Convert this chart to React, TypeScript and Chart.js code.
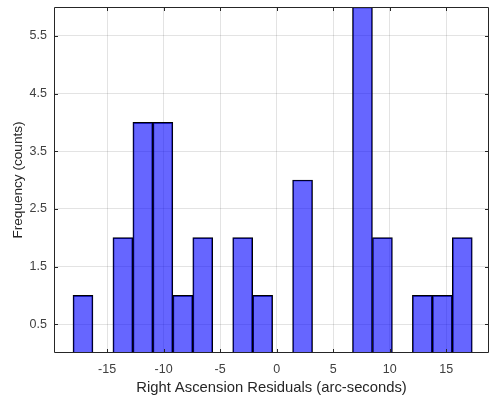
import React, { useEffect, useRef } from "react";
import { Chart, registerables } from "chart.js";

Chart.register(...registerables);

// Histogram bins (edges derived from start + width)
const binStart = -18.02;
const binWidth = 1.766;
const counts = [1, 0, 2, 4, 4, 1, 2, 0, 2, 1, 0, 3, 0, 0, 6, 2, 0, 1, 1, 2];

const xTicks = [-15, -10, -5, 0, 5, 10, 15];
const yTicks = [0.5, 1.5, 2.5, 3.5, 4.5, 5.5];
const xMin = -19.7;
const xMax = 18.78;
const yMin = 0;
const yMax = 6;

const xTitle = "Right Ascension Residuals (arc-seconds)";
const yTitle = "Frequency (counts)";

const FONT = "'Liberation Sans', Arial, Helvetica, sans-serif";
const AXIS = "#262626";

const boxPlugin = {
  id: "box",
  afterDatasetsDraw(chart: any) {
    const { ctx, chartArea } = chart;
    const { left, right, top, bottom } = chartArea;
    const xs = chart.scales.x;
    const ys = chart.scales.y;
    ctx.save();
    ctx.strokeStyle = AXIS;
    ctx.lineWidth = 1;
    ctx.beginPath();
    ctx.moveTo(left + 0.5, top + 0.5);
    ctx.lineTo(right - 0.5, top + 0.5);
    ctx.lineTo(right - 0.5, bottom - 0.5);
    ctx.lineTo(left + 0.5, bottom - 0.5);
    ctx.closePath();
    ctx.stroke();
    const tl = 4;
    ctx.beginPath();
    xTicks.forEach((v) => {
      const px = Math.round(xs.getPixelForValue(v)) + 0.5;
      ctx.moveTo(px, bottom);
      ctx.lineTo(px, bottom - tl);
      ctx.moveTo(px, top);
      ctx.lineTo(px, top + tl);
    });
    yTicks.forEach((v) => {
      const py = Math.round(ys.getPixelForValue(v)) + 0.5;
      ctx.moveTo(left, py);
      ctx.lineTo(left + tl, py);
      ctx.moveTo(right, py);
      ctx.lineTo(right - tl, py);
    });
    ctx.stroke();
    ctx.restore();
  },
};

export default function App() {
  const ref = useRef<HTMLCanvasElement | null>(null);
  useEffect(() => {
    if (!ref.current) return;
    const data = counts.map((c, i) => ({ x: binStart + binWidth * (i + 0.5), y: c }));
    const chart = new Chart(ref.current, {
      type: "bar",
      data: {
        datasets: [
          {
            data: data as any,
            backgroundColor: "rgba(0,0,255,0.6)",
            borderColor: "#000000",
            borderWidth: 1,
            borderSkipped: "bottom",
            barPercentage: 1,
            categoryPercentage: 1,
          },
        ],
      },
      options: {
        animation: false,
        responsive: false,
        maintainAspectRatio: false,
        layout: { padding: { left: 0, right: -1, top: 7, bottom: 0 } },
        plugins: { legend: { display: false }, tooltip: { enabled: false } },
        scales: {
          x: {
            type: "linear",
            min: xMin,
            max: xMax,
            offset: false,
            afterBuildTicks: (s: any) => {
              s.ticks = xTicks.map((v) => ({ value: v }));
            },
            afterFit: (s: any) => {
              s.height = 48;
              s.paddingLeft = 0;
              s.paddingRight = 0;
            },
            grid: { color: "rgba(38,38,38,0.13)", drawTicks: false, offset: false },
            border: { display: false },
            ticks: {
              padding: 9,
              color: "#404040",
              font: { family: FONT, size: 12.5 },
              maxRotation: 0,
              autoSkip: false,
              callback: (v: any) => String(v),
            },
            title: {
              display: true,
              text: xTitle,
              color: AXIS,
              font: { family: FONT, size: 14.8 },
              padding: { top: 0, bottom: 4 },
            },
          },
          y: {
            type: "linear",
            min: yMin,
            max: yMax,
            afterBuildTicks: (s: any) => {
              s.ticks = yTicks.map((v) => ({ value: v }));
            },
            afterFit: (s: any) => {
              s.width = 54;
              s.paddingTop = 0;
              s.paddingBottom = 0;
            },
            grid: { color: "rgba(38,38,38,0.13)", drawTicks: false },
            border: { display: false },
            ticks: {
              padding: 7,
              color: "#404040",
              font: { family: FONT, size: 12.5 },
              autoSkip: false,
              callback: (v: any) => String(v),
            },
            title: {
              display: true,
              text: yTitle,
              color: AXIS,
              font: { family: FONT, size: 13.6 },
              padding: { top: 10, bottom: 0 },
            },
          },
        },
      },
      plugins: [boxPlugin],
    });
    return () => chart.destroy();
  }, []);
  return (
    <div style={{ position: "absolute", left: 0, top: 0, width: 489, height: 401, background: "#fff" }}>
      <canvas ref={ref} width={489} height={401} style={{ display: "block" }} />
    </div>
  );
}
